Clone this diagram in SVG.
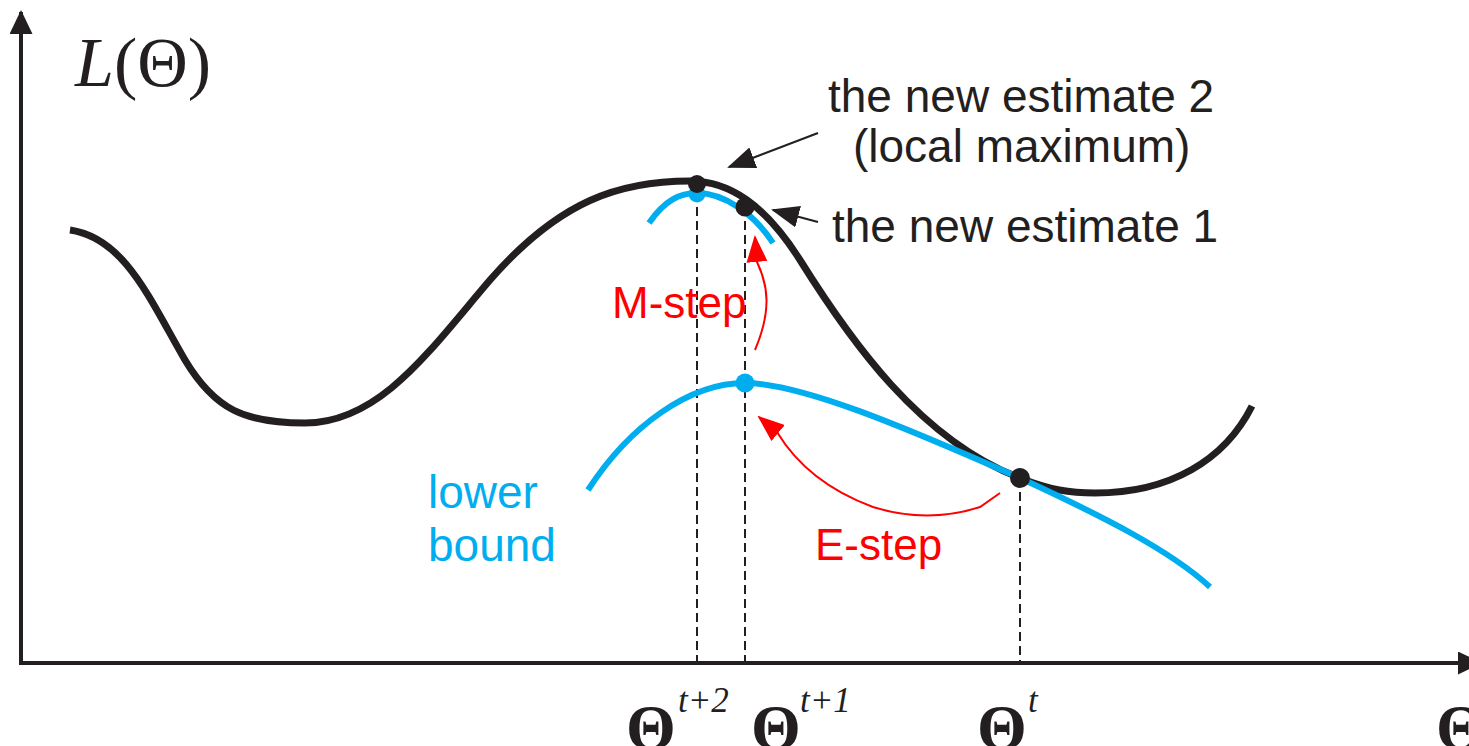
<svg xmlns="http://www.w3.org/2000/svg" width="1469" height="746" viewBox="0 0 1469 746">
<style>
.axis{fill:none;stroke:#231F20;stroke-width:4}
.curve{fill:none;stroke:#231F20;stroke-width:7}
.lb{fill:none;stroke:#00AEEF;stroke-width:6}
.dash{fill:none;stroke:#231F20;stroke-width:2;stroke-dasharray:9 5}
.ann{fill:none;stroke:#231F20;stroke-width:2}
.red{fill:none;stroke:#FF0000;stroke-width:2}
.sans{font-family:"Liberation Sans",Arial,sans-serif;font-size:46px}
.serif{font-family:"Liberation Serif","Times New Roman",serif}
.th{font-family:"Liberation Serif","Times New Roman",serif;font-weight:bold;font-size:64px;fill:#231F20}
.sup{font-family:"Liberation Serif","Times New Roman",serif;font-style:italic;font-size:35px;fill:#231F20}
</style>
<defs>
<marker id="ahAxis" markerUnits="userSpaceOnUse" markerWidth="24" markerHeight="23" viewBox="0 0 24 23" refX="22" refY="11.5" orient="auto"><path d="M0,0 L24,11.5 L0,23 z" fill="#231F20"/></marker>
<marker id="ahBlack" markerUnits="userSpaceOnUse" markerWidth="28" markerHeight="22" viewBox="0 0 28 22" refX="26" refY="11" orient="auto"><path d="M0,0 L28,11 L0,22 z" fill="#231F20"/></marker>
<marker id="ahRed" markerUnits="userSpaceOnUse" markerWidth="27" markerHeight="21" viewBox="0 0 27 21" refX="25" refY="10.5" orient="auto"><path d="M0,0 L27,10.5 L0,21 z" fill="#FF0000"/></marker>
</defs>
<rect width="1469" height="746" fill="#fff"/>
<g id="axes">
<path class="axis" d="M21,665 L21,12" marker-end="url(#ahAxis)"/>
<path class="axis" d="M19,663 L1480,663" marker-end="url(#ahAxis)"/>
</g>
<g id="dropLines">
<path class="dash" d="M697,193 L697,662"/>
<path class="dash" d="M745,207 L745,662"/>
<path class="dash" d="M1020,478 L1020,662"/>
</g>
<g id="likelihood">
<path class="curve" d="M70,230 C125,238 150,300 185,360 C215,410 245,423 305,423 C380,423 430,350 490,280 C560,200 620,181 690,181 C730,181 765,205 800,260 C850,340 920,440 1020,478 C1050,490 1070,493 1095,493 C1170,493 1225,460 1252,406"/>
</g>
<g id="lowerBound2">
<path class="lb" d="M649,223 C665,200 680,193 697,193 C725,193 755,215 773,243"/>
</g>
<g id="lowerBound1">
<path class="lb" d="M588,490 C630,425 690,383 745,383 C800,383 900,425 1020,478 C1100,515 1170,550 1210,587"/>
</g>
<g id="points">
<circle cx="697" cy="194" r="8.5" fill="#00AEEF"/>
<circle cx="697" cy="184" r="9" fill="#231F20"/>
<circle cx="745" cy="207" r="9.5" fill="#231F20"/>
<circle cx="745" cy="383" r="9.5" fill="#00AEEF"/>
<circle cx="1020" cy="478" r="10" fill="#231F20"/>
</g>
<g id="connectors">
<path class="ann" d="M818,133 L729,167" marker-end="url(#ahBlack)"/>
<path class="ann" d="M818,222 L773,210" marker-end="url(#ahBlack)"/>
<path class="red" d="M755,350 C772,310 768,285 757,262 L755,237" marker-end="url(#ahRed)"/>
<path class="red" d="M1000,493 L980,507 C940,520 905,517 873,507 C835,493 800,470 777,432 L759,417" marker-end="url(#ahRed)"/>
</g>
<g id="yLabel">
<text class="serif" x="75" y="86" font-size="70" fill="#231F20"><tspan font-style="italic">L</tspan>(Θ)</text>
</g>
<g id="labelEstimate2">
<text class="sans" x="828" y="112" fill="#231F20">the new estimate 2</text>
<text class="sans" x="853" y="162" fill="#231F20">(local maximum)</text>
</g>
<g id="labelEstimate1">
<text class="sans" x="832" y="242" fill="#231F20">the new estimate 1</text>
</g>
<g id="labelMstep"><text class="sans" x="612" y="318" fill="#FF0000" style="font-size:44px">M-step</text></g>
<g id="labelEstep"><text class="sans" x="815" y="560" fill="#FF0000" style="font-size:44px">E-step</text></g>
<g id="labelLowerBound">
<text class="sans" x="428" y="508" fill="#00AEEF">lower</text>
<text class="sans" x="428" y="561" fill="#00AEEF">bound</text>
</g>
<g id="ticks">
<text class="th" x="626" y="749">Θ</text><text class="sup" x="678" y="712">t+2</text>
<text class="th" x="751" y="749">Θ</text><text class="sup" x="800" y="712">t+1</text>
<text class="th" x="977" y="749">Θ</text><text class="sup" x="1028" y="712">t</text>
<text class="th" x="1436" y="749">Θ</text>
</g>
</svg>
